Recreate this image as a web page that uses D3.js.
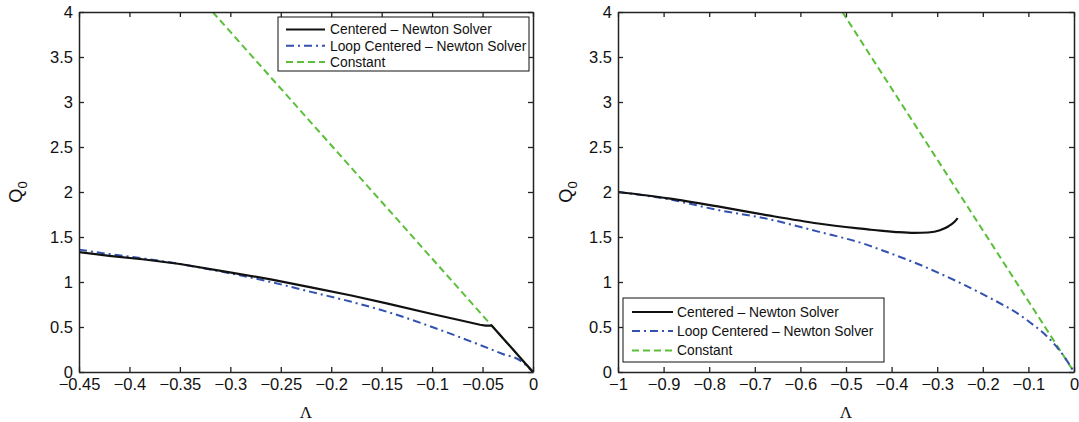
<!DOCTYPE html>
<html>
<head>
<meta charset="utf-8">
<script src="https://cdn.jsdelivr.net/npm/d3@7"></script>
<style>
  html, body { margin: 0; padding: 0; background: #fff; }
  svg { display: block; }
  text { font-family: "Liberation Sans", Arial, Helvetica, sans-serif; fill: #111; }
</style>
</head>
<body>
<svg id="chart" width="1079" height="422"></svg>
<script>
// ---------- DATA ----------
const seriesNames = ["Centered \u2013 Newton Solver", "Loop Centered \u2013 Newton Solver", "Constant"];

// Left panel
const leftXTicks = [-0.45, -0.4, -0.35, -0.3, -0.25, -0.2, -0.15, -0.1, -0.05, 0];
const leftXTickLabels = ["\u22120.45", "\u22120.4", "\u22120.35", "\u22120.3", "\u22120.25", "\u22120.2", "\u22120.15", "\u22120.1", "\u22120.05", "0"];
const leftCenteredLambda = [-0.45, -0.42, -0.385, -0.35, -0.302, -0.26, -0.22, -0.18, -0.144, -0.1, -0.07, -0.0525, -0.047, -0.043, -0.041, -0.03, -0.02, -0.01, 0];
const leftCenteredQ      = [1.333, 1.29, 1.25, 1.20, 1.11, 1.03, 0.94, 0.85, 0.76, 0.645, 0.57, 0.525, 0.515, 0.515, 0.517, 0.378, 0.252, 0.126, 0];
const leftLoopLambda = [-0.45, -0.42, -0.385, -0.35, -0.302, -0.26, -0.22, -0.18, -0.144, -0.1, -0.0525, -0.03, -0.013, 0];
const leftLoopQ      = [1.36, 1.31, 1.26, 1.20, 1.10, 1.00, 0.89, 0.78, 0.667, 0.50, 0.30, 0.20, 0.13, 0];
const leftConstLambda = [-0.3175, 0];
const leftConstQ      = [4, 0];

// Right panel
const rightXTicks = [-1, -0.9, -0.8, -0.7, -0.6, -0.5, -0.4, -0.3, -0.2, -0.1, 0];
const rightXTickLabels = ["\u22121", "\u22120.9", "\u22120.8", "\u22120.7", "\u22120.6", "\u22120.5", "\u22120.4", "\u22120.3", "\u22120.2", "\u22120.1", "0"];
const rightCenteredLambda = [-1, -0.89, -0.781, -0.671, -0.561, -0.452, -0.425, -0.39, -0.35, -0.32, -0.294, -0.275, -0.262, -0.255];
const rightCenteredQ      = [2.0, 1.93, 1.84, 1.74, 1.65, 1.585, 1.57, 1.555, 1.545, 1.55, 1.575, 1.62, 1.67, 1.71];
const rightLoopLambda = [-1, -0.89, -0.781, -0.671, -0.561, -0.452, -0.425, -0.342, -0.301, -0.2025, -0.104, -0.045, -0.02, 0];
const rightLoopQ      = [2.0, 1.92, 1.80, 1.70, 1.56, 1.41, 1.36, 1.20, 1.11, 0.87, 0.58, 0.32, 0.16, 0];
const rightConstLambda = [-0.508, 0];
const rightConstQ      = [4, 0];

// Shared y axis
const yTicks = [0, 0.5, 1, 1.5, 2, 2.5, 3, 3.5, 4];
const yTickLabels = ["0", "0.5", "1", "1.5", "2", "2.5", "3", "3.5", "4"];

// ---------- STYLE ----------
const colors = ["#111111", "#3352b0", "#5cbf3c"];
const dashes = [null, "8,4,2,4", "7,4"];
const widths = [2.2, 2, 2];

const svg = d3.select("#chart");
const plotTop = 12, plotBottom = 372;

const panels = [
  { x0: 79, x1: 533, domain: [-0.45, 0], xt: leftXTicks, xl: leftXTickLabels,
    series: [[leftCenteredLambda, leftCenteredQ], [leftLoopLambda, leftLoopQ], [leftConstLambda, leftConstQ]],
    curves: [d3.curveLinear, d3.curveMonotoneX, d3.curveLinear],
    legend: { x: 278, y: 17, w: 251, h: 54, rows: [29.5, 45.8, 62], s0: 286, s1: 325, tx: 330 },
    ylabX: 22 },
  { x0: 618, x1: 1074, domain: [-1, 0], xt: rightXTicks, xl: rightXTickLabels,
    series: [[rightCenteredLambda, rightCenteredQ], [rightLoopLambda, rightLoopQ], [rightConstLambda, rightConstQ]],
    curves: [d3.curveMonotoneX, d3.curveMonotoneX, d3.curveLinear],
    legend: { x: 623, y: 298, w: 261, h: 64, rows: [312, 331, 350.5], s0: 632, s1: 673, tx: 677 },
    ylabX: 572 }
];

panels.forEach((p, pi) => {
  const x = d3.scaleLinear().domain(p.domain).range([p.x0, p.x1]);
  const y = d3.scaleLinear().domain([0, 4]).range([plotBottom, plotTop]);

  const clipId = "clip" + pi;
  svg.append("clipPath").attr("id", clipId)
    .append("rect").attr("x", p.x0).attr("y", plotTop).attr("width", p.x1 - p.x0).attr("height", plotBottom - plotTop);

  const g = svg.append("g");

  [2, 1, 0].forEach(si => {
    const line = d3.line().x(d => x(d[0])).y(d => y(d[1])).curve(p.curves[si]);
    const [lx, ly] = p.series[si];
    const pts = lx.map((v, i) => [v, ly[i]]);
    g.append("path").datum(pts)
      .attr("clip-path", `url(#${clipId})`)
      .attr("d", line)
      .attr("fill", "none")
      .attr("stroke", colors[si])
      .attr("stroke-width", widths[si])
      .attr("stroke-dasharray", dashes[si])
      .attr("stroke-linejoin", "round");
  });

  const fmtX = (d) => p.xl[p.xt.indexOf(d)];
  const fmtY = (d) => yTickLabels[yTicks.indexOf(d)];

  const axStyle = sel => {
    sel.select(".domain").attr("stroke", "#222").attr("stroke-width", 1.5);
    sel.selectAll(".tick line").attr("stroke", "#222").attr("stroke-width", 1.3);
    sel.selectAll("text").style("font-family", "'Liberation Sans', Arial, sans-serif").style("font-size", "16.5px").attr("fill", "#111");
  };

  g.append("g").attr("transform", `translate(0,${plotBottom})`)
    .call(d3.axisBottom(x).tickValues(p.xt).tickFormat(fmtX).tickSizeInner(-5).tickSizeOuter(0).tickPadding(6))
    .call(axStyle);
  g.append("g").attr("transform", `translate(0,${plotTop})`)
    .call(d3.axisTop(x).tickValues(p.xt).tickFormat("").tickSizeInner(-5).tickSizeOuter(0))
    .call(axStyle);
  g.append("g").attr("transform", `translate(${p.x0},0)`)
    .call(d3.axisLeft(y).tickValues(yTicks).tickFormat(fmtY).tickSizeInner(-5).tickSizeOuter(0).tickPadding(6))
    .call(axStyle);
  g.append("g").attr("transform", `translate(${p.x1},0)`)
    .call(d3.axisRight(y).tickValues(yTicks).tickFormat("").tickSizeInner(-5).tickSizeOuter(0))
    .call(axStyle);

  g.append("text").attr("x", (p.x0 + p.x1) / 2).attr("y", 418)
    .attr("text-anchor", "middle")
    .style("font-family", "'Liberation Serif', 'Times New Roman', serif")
    .style("font-size", "17px").text("\u039B");

  const yl = g.append("text")
    .attr("transform", `translate(${p.ylabX},${(plotTop + plotBottom) / 2}) rotate(-90)`)
    .attr("text-anchor", "middle")
    .style("font-size", "18px");
  yl.append("tspan").text("Q");
  yl.append("tspan").attr("dy", 5).style("font-size", "13px").text("0");

  const L = p.legend;
  const lg = g.append("g");
  lg.append("rect").attr("x", L.x).attr("y", L.y).attr("width", L.w).attr("height", L.h)
    .attr("fill", "#fff").attr("stroke", "#111").attr("stroke-width", 1);
  seriesNames.forEach((name, si) => {
    lg.append("line").attr("x1", L.s0).attr("x2", L.s1).attr("y1", L.rows[si]).attr("y2", L.rows[si])
      .attr("stroke", colors[si]).attr("stroke-width", widths[si]).attr("stroke-dasharray", dashes[si]);
    lg.append("text").attr("x", L.tx).attr("y", L.rows[si]).attr("dy", "0.35em")
      .style("font-size", "13.8px").text(name);
  });
});
</script>
</body>
</html>
